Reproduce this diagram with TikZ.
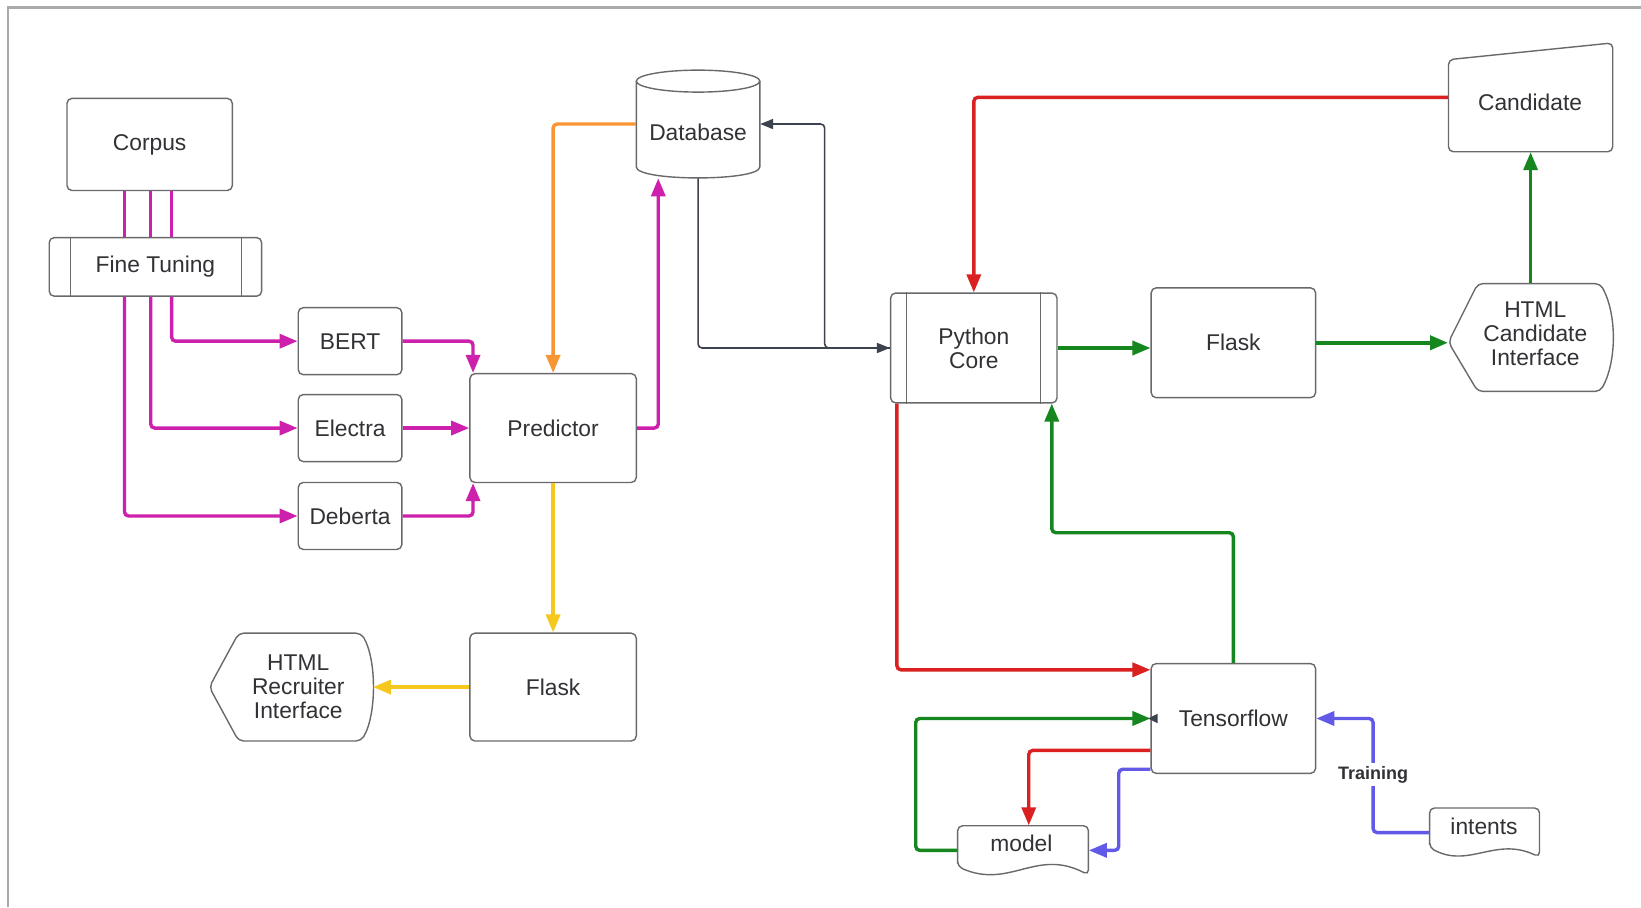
\documentclass[tikz,border=0pt]{standalone}
\usepackage{fontspec}
\setmainfont{Liberation Sans}
\usetikzlibrary{arrows.meta,calc}
\definecolor{magc}{RGB}{205,32,172}
\definecolor{orngc}{RGB}{246,150,52}
\definecolor{yelc}{RGB}{246,200,30}
\definecolor{redc}{RGB}{218,32,32}
\definecolor{grnc}{RGB}{22,134,30}
\definecolor{bluc}{RGB}{98,90,230}
\definecolor{cgray}{RGB}{60,66,78}
\definecolor{bcol}{RGB}{105,105,108}
\definecolor{tcol}{RGB}{50,50,54}
\definecolor{framec}{RGB}{170,170,170}
\newcommand\dfont{\fontsize{11.4pt}{12pt}\selectfont}
\begin{document}
\begin{tikzpicture}[x=0.5233pt,y=-0.5233pt,
  box/.style={draw=bcol, line width=0.7pt, rounded corners=2.5pt, fill=white, inner sep=0pt, align=center, text=tcol, font=\dfont},
  ghost/.style={inner sep=0pt, align=center, text=tcol, font=\dfont},
  shp/.style={draw=bcol, line width=0.7pt, rounded corners=2.5pt, fill=white},
  cyl/.style={draw=bcol, line width=0.7pt, fill=white},
  bline/.style={draw=bcol, line width=0.7pt},
  conn/.style={line width=1.7pt, rounded corners=2pt, -{Triangle[length=9pt,width=7pt]}},
  plainc/.style={line width=1.7pt, rounded corners=2pt},
  gconn/.style={draw=cgray, line width=0.8pt, rounded corners=2pt, -{Triangle[length=6.5pt,width=5pt]}}
]
\useasboundingbox (0,0) rectangle (1568,867);
\fill[white] (0,0) rectangle (1568,867);
% frame
\draw[framec, line width=1.2pt] (7.5,867) -- (7.5,7) -- (1568,7);

% ---------- shapes drawn directly ----------
% Database cylinder
\draw[cyl] (608,77.5) -- (608,159.5) .. controls (608,173.5) and (726,173.5) .. (726,159.5) -- (726,77.5);
\draw[cyl] (667,77.5) ellipse [x radius=30.87pt, y radius=5.49pt];
\node[ghost, minimum width=61.75pt, minimum height=53.9pt] (db) at (667,118.5) {};
\node[ghost] (dbtxt) at (667,126) {Database};

% HTML Recruiter Interface (display shape)
\draw[shp] (200,656.5) -- (228,605) -- (345,605) .. controls (360,630) and (360,683) .. (345,708) -- (228,708) -- cycle;
\node[ghost, minimum width=74.3pt, minimum height=53.9pt] (htmlR) at (285,656.5) {HTML\\Recruiter\\Interface};

% HTML Candidate Interface (display shape)
\draw[shp] (1384,327) -- (1412,271) -- (1529,271) .. controls (1545,300) and (1545,345) .. (1529,374) -- (1412,374) -- cycle;
\node[ghost, minimum width=82.2pt, minimum height=53.9pt] (htmlC) at (1462.5,322.5) {};
\node[ghost] (htmlCtxt) at (1467,319) {HTML\\Candidate\\Interface};

% Candidate (manual input)
\draw[shp] (1384,57) -- (1541,41) -- (1541,145) -- (1384,145) -- cycle;
\node[ghost, minimum width=82.2pt, minimum height=54.4pt] (cand) at (1462.5,93) {};
\node[ghost] (candtxt) at (1462,98) {Candidate};

% model (document)
\draw[shp] (915,828) -- (915,789) -- (1040,789) -- (1040,836) .. controls (990,810) and (965,850) .. (915,828) -- cycle;
\node[ghost, minimum width=65.4pt, minimum height=24.6pt] (model) at (977.5,812.5) {};
\node[ghost] (modeltxt) at (976,806) {model};

% intents (document)
\draw[shp] (1366,810) -- (1366,772) -- (1471,772) -- (1471,819) .. controls (1429,799) and (1404,830) .. (1366,810) -- cycle;
\node[ghost, minimum width=54.9pt, minimum height=24.6pt] (intents) at (1418.5,795.5) {};
\node[ghost] (intentstxt) at (1418,790) {intents};

% ---------- boxes ----------
\node[box, minimum width=82.68pt, minimum height=46.05pt] (corpus) at (143,138) {Corpus};
\node[box, minimum width=106.2pt, minimum height=29.3pt] (ft) at (148.5,255) {Fine Tuning};
\draw[bline] (67.5,0|-ft.north) -- (67.5,0|-ft.south);
\draw[bline] (231,0|-ft.north) -- (231,0|-ft.south);
\node[box, minimum width=51.8pt, minimum height=33.5pt] (bert) at (334.5,326) {BERT};
\node[box, minimum width=51.8pt, minimum height=33.5pt] (electra) at (334.5,409) {Electra};
\node[box, minimum width=51.8pt, minimum height=33.5pt] (deberta) at (334.5,493) {Deberta};
\node[box, minimum width=83.2pt, minimum height=54.4pt] (pred) at (528.5,409) {Predictor};
\node[box, minimum width=83.2pt, minimum height=53.9pt] (flaskL) at (528.5,656.5) {Flask};
\node[box, minimum width=83.2pt, minimum height=54.9pt] (pc) at (930.5,332.5) {Python\\Core};
\draw[bline] (866,0|-pc.north) -- (866,0|-pc.south);
\draw[bline] (994,0|-pc.north) -- (994,0|-pc.south);
\node[box, minimum width=82.2pt, minimum height=54.9pt] (flaskR) at (1178.5,327.5) {Flask};
\node[box, minimum width=82.2pt, minimum height=54.9pt] (tf) at (1178.5,686.5) {Tensorflow};

% ---------- connectors ----------
% magenta
\draw[plainc, magc] (119,0|-corpus.south) -- (119,0|-ft.north);
\draw[plainc, magc] (144,0|-corpus.south) -- (144,0|-ft.north);
\draw[plainc, magc] (164,0|-corpus.south) -- (164,0|-ft.north);
\draw[conn, magc] (164,0|-ft.south) |- (bert.west);
\draw[conn, magc] (144,0|-ft.south) |- (electra.west);
\draw[conn, magc] (119,0|-ft.south) |- (deberta.west);
\draw[conn, magc] (bert.east) -| (452,0|-pred.north);
\draw[conn, magc] (electra.east) -- (pred.west);
\draw[conn, magc] (deberta.east) -| (452,0|-pred.south);
\draw[conn, magc] (pred.east) -| (629,0|-db.south);
% orange
\draw[conn, orngc] (db.west) -| (pred.north);
% yellow
\draw[conn, yelc] (pred.south) -- (flaskL.north);
\draw[conn, yelc] (flaskL.west) -- (htmlR.east);
% gray
\draw[gconn] (db.south) |- (pc.west);
\draw[gconn] (pc.west) -- (788,0|-pc.west) |- (db.east);
% red
\draw[conn, redc] (cand.west) -| (pc.north);
\draw[conn, redc] (857,0|-pc.south) |- (tf.west|-0,640);
\draw[conn, redc] (tf.west|-0,717) -| (983,0|-model.north);
% green
\draw[conn, grnc] (pc.east) -- (flaskR.west|-pc.east);
\draw[conn, grnc, line width=2pt] (flaskR.east) -- (htmlC.west|-flaskR.east);
\draw[conn, grnc] (htmlC.north) -- (cand.south);
\draw[conn, grnc] (tf.north) -- (tf.north|-0,509) -| (1005,0|-pc.south);
\draw[conn, grnc] (model.west) -- (875,0|-model.west) |- (tf.west);
\fill[cgray] (1106,682) -- (1097,686.5) -- (1106,691) -- cycle;
% blue
\draw[conn, bluc] (tf.west|-0,735) -- (1069,735) |- (model.east);
\draw[conn, bluc] (intents.west) -- (1312,0|-intents.west) |- (tf.east);
\node[font=\bfseries\fontsize{9pt}{10pt}\selectfont, fill=white, inner sep=1.5pt, text=tcol] (train) at (1312,740) {Training};
\end{tikzpicture}
\end{document}
